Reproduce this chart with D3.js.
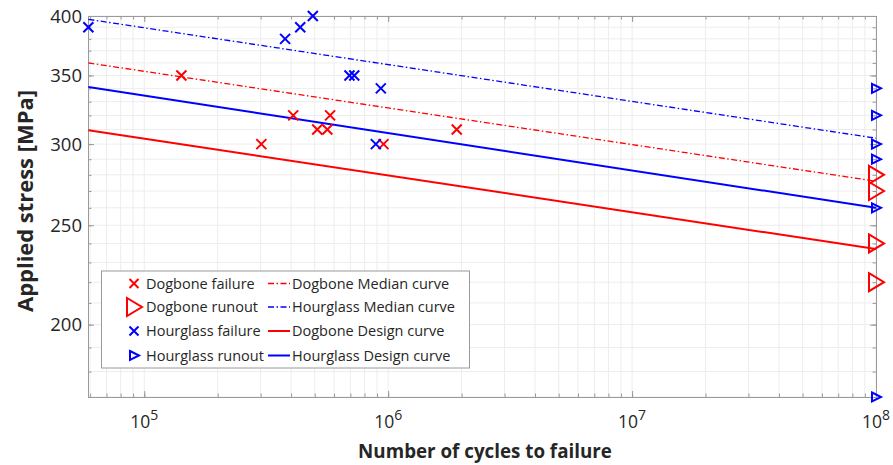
<!DOCTYPE html>
<html>
<head>
<meta charset="utf-8">
<script src="https://cdn.jsdelivr.net/npm/d3@7"></script>
<style>
  body { margin: 0; background: #fff; }
  svg { display: block; font-family: "Open Sans", sans-serif; }
</style>
</head>
<body>
<div class="chart"></div>
<script>
// Chart size and margins
const width = 893;
const height = 465;
const margin = { top: 16, right: 17, bottom: 68, left: 88 };

// Test data: cycles to failure and applied stress (MPa)
const dogboneFailN = [1.42e5, 3.02e5, 4.08e5, 5.12e5, 5.63e5, 5.78e5, 9.57e5, 1.91e6];
const dogboneFailS = [350, 300, 320, 310, 310, 320, 300, 310];
const hourglassFailN = [5.9e4, 3.78e5, 4.36e5, 4.91e5, 6.94e5, 7.26e5, 9.33e5, 8.9e5];
const hourglassFailS = [390, 380, 390, 400, 350, 350, 340, 300];
const dogboneRunoutN = [1e8, 1e8, 1e8, 1e8];
const dogboneRunoutS = [280, 270, 240, 220];
const hourglassRunoutN = [1e8, 1e8, 1e8, 1e8, 1e8, 1e8];
const hourglassRunoutS = [340, 320, 300, 290, 260, 170];

// S-N curves (straight in log-log), given by their end points
const curveN = [5.9e4, 1e8];
const dogboneMedianS = [360, 276];
const hourglassMedianS = [397, 304];
const dogboneDesignS = [309.5, 237];
const hourglassDesignS = [341, 260];

// Axis ticks
const xMajorTicks = [1e5, 1e6, 1e7, 1e8];
const xExponents = [5, 6, 7, 8];
const yMajorTicks = [200, 250, 300, 350, 400];

const red = '#ff0000';
const blue = '#0000ff';
const dashDot = '6,2.5,1.5,2.5';

const x = d3.scaleLog().domain([5.88e4, 1e8]).range([margin.left, width - margin.right]);
const y = d3.scaleLog().domain([170, 400]).range([height - margin.bottom, margin.top]);

const xMinor = [];
for (let e = 4; e <= 7; e++) {
  for (let m = 1; m <= 9; m++) {
    const v = m * Math.pow(10, e);
    if (v >= 5.88e4 && v <= 1e8) xMinor.push(v);
  }
}
xMinor.push(1e8);
const yMinor = d3.range(170, 401, 10);

const svg = d3.select('.chart').append('svg')
  .attr('width', width)
  .attr('height', height);

// Grid
const grid = svg.append('g').attr('stroke', '#ededed').attr('stroke-width', 1);
grid.selectAll('.gx').data(xMinor).enter().append('line')
  .attr('x1', d => x(d)).attr('x2', d => x(d))
  .attr('y1', margin.top).attr('y2', height - margin.bottom);
grid.selectAll('.gy').data(yMinor).enter().append('line')
  .attr('y1', d => y(d)).attr('y2', d => y(d))
  .attr('x1', margin.left).attr('x2', width - margin.right);

// Axes with inward ticks on all four sides
function styleAxis(g) {
  g.selectAll('path, line').attr('stroke', '#9a9a9a');
  g.selectAll('text').remove();
}
const axes = [
  [d3.axisBottom(x), `translate(0,${height - margin.bottom})`, xMinor, xMajorTicks],
  [d3.axisTop(x), `translate(0,${margin.top})`, xMinor, xMajorTicks],
  [d3.axisLeft(y), `translate(${margin.left},0)`, yMinor, yMajorTicks],
  [d3.axisRight(y), `translate(${width - margin.right},0)`, yMinor, yMajorTicks]
];
axes.forEach(([axis, tr, minor, major]) => {
  svg.append('g').attr('transform', tr)
    .call(axis.tickValues(minor).tickSizeInner(-3.5).tickSizeOuter(0))
    .call(styleAxis);
  svg.append('g').attr('transform', tr)
    .call(axis.tickValues(major).tickSizeInner(-6).tickSizeOuter(0))
    .call(styleAxis);
});

// Tick labels
const xl = svg.append('g').attr('fill', '#262626').attr('font-size', 17.5);
xMajorTicks.forEach((v, i) => {
  const t = xl.append('text')
    .attr('x', x(v))
    .attr('y', 428)
    .attr('text-anchor', 'middle');
  t.append('tspan').text('10');
  t.append('tspan').attr('font-size', 14).attr('dy', -8).text(xExponents[i]);
});
svg.append('g').attr('fill', '#262626').attr('font-size', 18.5)
  .selectAll('text').data(yMajorTicks).enter().append('text')
  .attr('x', margin.left - 6)
  .attr('y', d => y(d))
  .attr('dy', '0.36em')
  .attr('text-anchor', 'end')
  .text(d => d);

// Axis titles, sized to the span they take in the figure
function fitText(sel, target) {
  const len = sel.node().getComputedTextLength();
  sel.attr('font-size', 17 * target / len);
}
svg.append('text')
  .attr('x', 485).attr('y', 458)
  .attr('text-anchor', 'middle')
  .attr('font-size', 17).attr('font-weight', 'bold').attr('fill', '#262626')
  .text('Number of cycles to failure')
  .call(fitText, 254);
svg.append('text')
  .attr('transform', 'translate(33,201) rotate(-90)')
  .attr('text-anchor', 'middle')
  .attr('font-size', 17).attr('font-weight', 'bold').attr('fill', '#262626')
  .text('Applied stress [MPa]')
  .call(fitText, 222);

// Curves
svg.append('clipPath').attr('id', 'plot-clip').append('rect')
  .attr('x', margin.left).attr('y', margin.top)
  .attr('width', width - margin.left - margin.right)
  .attr('height', height - margin.top - margin.bottom);
const line = d3.line().x(d => x(d[0])).y(d => y(d[1]));
const curves = [
  { s: dogboneMedianS, color: red, dash: dashDot, w: 1.3 },
  { s: hourglassMedianS, color: blue, dash: dashDot, w: 1.3 },
  { s: dogboneDesignS, color: red, dash: null, w: 2 },
  { s: hourglassDesignS, color: blue, dash: null, w: 2 }
];
svg.append('g').attr('clip-path', 'url(#plot-clip)')
  .selectAll('path').data(curves).enter().append('path')
  .attr('d', d => line(d3.zip(curveN, d.s)))
  .attr('fill', 'none')
  .attr('stroke', d => d.color)
  .attr('stroke-width', d => d.w)
  .attr('stroke-dasharray', d => d.dash);

// Marker shapes
function cross(r) {
  return `M${-r},${-r}L${r},${r}M${-r},${r}L${r},${-r}`;
}
const bigTri = 'M-7,-9L8,0L-7,9Z';
const smallTri = 'M-4,-4.5L5,0L-4,4.5Z';

function drawMarkers(nArr, sArr, path, color) {
  svg.append('g').selectAll('path').data(d3.zip(nArr, sArr)).enter().append('path')
    .attr('transform', d => `translate(${x(d[0])},${y(d[1])})`)
    .attr('d', path)
    .attr('fill', 'none')
    .attr('stroke', color)
    .attr('stroke-width', 2);
}
drawMarkers(dogboneFailN, dogboneFailS, cross(5), red);
drawMarkers(hourglassFailN, hourglassFailS, cross(5), blue);
drawMarkers(hourglassRunoutN, hourglassRunoutS, smallTri, blue);
drawMarkers(dogboneRunoutN, dogboneRunoutS, bigTri, red);

// Legend
const legend = svg.append('g');
legend.append('rect')
  .attr('x', 101.5).attr('y', 271)
  .attr('width', 368).attr('height', 97)
  .attr('fill', '#fff').attr('stroke', '#9a9a9a');
const rowY = [283.5, 307, 331, 355.5];
const legendLeft = [
  { label: 'Dogbone failure', path: cross(4.5), color: red },
  { label: 'Dogbone runout', path: bigTri, color: red },
  { label: 'Hourglass failure', path: cross(4.5), color: blue },
  { label: 'Hourglass runout', path: smallTri, color: blue }
];
const legendRight = [
  { label: 'Dogbone Median curve', color: red, dash: dashDot, w: 1.3 },
  { label: 'Hourglass Median curve', color: blue, dash: dashDot, w: 1.3 },
  { label: 'Dogbone Design curve', color: red, dash: null, w: 2 },
  { label: 'Hourglass Design curve', color: blue, dash: null, w: 2 }
];
legendLeft.forEach((d, i) => {
  legend.append('path')
    .attr('transform', `translate(134,${rowY[i]})`)
    .attr('d', d.path)
    .attr('fill', 'none').attr('stroke', d.color).attr('stroke-width', 2);
  legend.append('text')
    .attr('x', 146).attr('y', rowY[i]).attr('dy', '0.35em')
    .attr('font-size', 14.5).attr('fill', '#262626')
    .text(d.label);
});
legendRight.forEach((d, i) => {
  legend.append('line')
    .attr('x1', 268).attr('x2', 290)
    .attr('y1', rowY[i]).attr('y2', rowY[i])
    .attr('stroke', d.color).attr('stroke-width', d.w)
    .attr('stroke-dasharray', d.dash);
  legend.append('text')
    .attr('x', 292).attr('y', rowY[i]).attr('dy', '0.35em')
    .attr('font-size', 14.5).attr('fill', '#262626')
    .text(d.label);
});
</script>
</body>
</html>
